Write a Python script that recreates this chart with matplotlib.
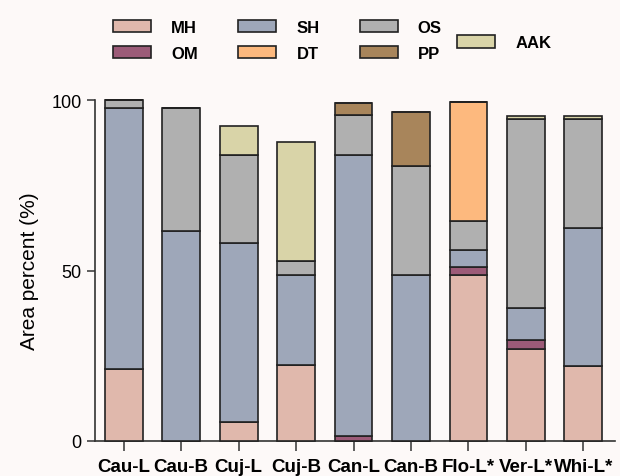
import matplotlib.pyplot as plt
from matplotlib.patches import Patch
import numpy as np

# Muestras y componentes
samples = ['Cau-L', 'Cau-B', 'Cuj-L', 'Cuj-B', 'Can-L', 'Can-B', 'Flo-L*', 'Ver-L*', 'Whi-L*']
MH = [21.1, 0, 5.5, 22.4, 0, 0, 48.7, 27.0, 21.9]
OM = [0, 0, 0, 0, 1.6, 0, 2.2, 2.6, 0]
SH = [76.5, 61.7, 52.5, 26.4, 82.3, 48.7, 5.1, 9.4, 40.6]
OS = [2.4, 36.0, 25.8, 4.1, 11.7, 32.0, 8.6, 55.4, 31.9]
DT = [0, 0, 0, 0, 0, 0, 34.9, 0, 0]
PP = [0, 0, 0, 0, 3.5, 15.7, 0, 0, 0]
AAK = [0, 0, 8.6, 34.8, 0, 0, 0, 1.0, 0.8]

series = [('MH', MH, '#e0b8ac'), ('OM', OM, '#9c5b78'), ('SH', SH, '#9ea7b9'),
          ('OS', OS, '#b0b0b0'), ('DT', DT, '#fdb97e'), ('PP', PP, '#a8855b'),
          ('AAK', AAK, '#d9d4a8')]

bg = '#fdf9f8'
fig = plt.figure(figsize=(6.2, 4.77), dpi=100, facecolor=bg)
ax = fig.add_axes([0.153, 0.0734, 0.839, 0.7148], facecolor=bg)

x = np.arange(len(samples))
bottom = np.zeros(len(samples))
handles = {}
for name, vals, col in series:
    vals = np.array(vals)
    ax.bar(x, vals, 0.66, bottom=bottom, color=col, edgecolor='#222222',
           linewidth=1.2, clip_on=False, zorder=3)
    bottom += vals
    handles[name] = Patch(facecolor=col, edgecolor='#222222', linewidth=1.2, label=name)

ax.set_xlim(-0.5, 8.55)
ax.set_ylim(0, 100)
ax.set_yticks([0, 50, 100])
ax.set_xticks(x)
ax.set_xticklabels(samples, fontsize=13.5, fontweight='bold',
                   family=['Liberation Sans', 'DejaVu Sans'])
ax.tick_params(axis='y', labelsize=13, length=6, width=1.1, color='#333333')
ax.tick_params(axis='x', length=7, width=1.1, color='#333333', pad=5)
for lab in ax.get_yticklabels():
    lab.set_family(['Liberation Sans', 'DejaVu Sans'])
ax.set_ylabel('Area percent (%)', fontsize=15, family=['Liberation Sans', 'DejaVu Sans'], labelpad=9)
for s in ['top', 'right']:
    ax.spines[s].set_visible(False)
for s in ['left', 'bottom']:
    ax.spines[s].set_linewidth(1.2)
    ax.spines[s].set_color('#333333')

# Leyenda
order = ['MH', 'OM', 'SH', 'DT', 'OS', 'PP']
leg_font = {'family': ['Liberation Sans', 'DejaVu Sans'], 'weight': 'bold', 'size': 12}
leg1 = fig.legend([handles[k] for k in order], order, ncol=3, loc='center left',
                  bbox_to_anchor=(0.158, 0.913), frameon=False, prop=leg_font,
                  handlelength=2.3, handleheight=0.75, handletextpad=1.2,
                  columnspacing=2.4, labelspacing=0.65)
leg2 = fig.legend([handles['AAK']], ['AAK'], loc='center left',
                  bbox_to_anchor=(0.713, 0.908), frameon=False, prop=leg_font,
                  handlelength=2.3, handleheight=0.75, handletextpad=1.2)

plt.savefig('out.png', dpi=100, facecolor=bg)
